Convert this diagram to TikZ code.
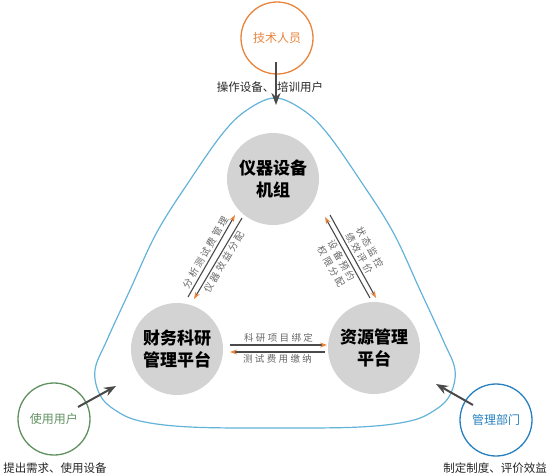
\documentclass[tikz,border=0pt]{standalone}
\usepackage{fontspec}
\newfontfamily\cjk{Noto Sans CJK SC}
\newfontfamily\cjklab[LetterSpace=25]{Noto Sans CJK SC}
\usetikzlibrary{arrows.meta}
\definecolor{orng}{HTML}{E8843C}
\definecolor{grn}{HTML}{5F9160}
\definecolor{blu}{HTML}{2680BE}
\definecolor{lblu}{HTML}{63B3D8}
\definecolor{gfill}{HTML}{D3D3D3}
\definecolor{dk}{HTML}{4A4A4A}
\definecolor{labc}{HTML}{666666}
\begin{document}
\begin{tikzpicture}[x=1pt,y=-1pt,
 hub/.style={circle, fill=gfill, minimum size=92pt, inner sep=0pt, align=center, font=\cjk\bfseries\fontsize{17}{22}\selectfont, text=black},
 actor/.style={circle, draw=#1, text=#1, line width=1.3pt, minimum size=72pt, inner sep=0pt, font=\cjk\fontsize{12}{14}\selectfont},
 flow/.style={draw=dk, line width=1.1pt, -{Stealth[length=7pt,width=5pt,color=orng]}},
 push/.style={draw=dk, line width=2pt, -{Stealth[length=12pt,width=9pt]}},
 lab/.style={font=\cjklab\fontsize{9.5}{12}\selectfont, text=labc, inner sep=2.2pt, align=center},
 note/.style={font=\cjk\fontsize{11.5}{14}\selectfont, text=black!85, inner sep=0pt}
]
\useasboundingbox (0,0) rectangle (552,475);
% outer rounded triangle
\draw[lblu, line width=1.2pt] plot[smooth cycle, tension=0.6] coordinates {
 (275,98) (303,110) (327,133) (360,180) (393,232) (420,290) (443,340) (455,370)
 (450,395) (435,410) (410,421) (360,427) (275,428) (190,427) (140,421) (115,410)
 (100,395) (95,370) (107,340) (130,290) (157,232) (190,180) (223,133) (247,110)};
% hubs
\node[hub] (inst) at (273,179) {仪器设备\\机组};
\node[hub] (fin) at (177,349) {财务科研\\管理平台};
\node[hub] (res) at (374,348) {资源管理\\平台};
% actors
\node[actor=orng] (tech) at (277,38) {技术人员};
\node[actor=grn] (user) at (54,419) {使用用户};
\node[actor=blu] (mgmt) at (496,420) {管理部门};
% actor notes
\node[note] (techn) at (270,87) {操作设备、\hspace{3pt}培训用户};
\node[note] (usern) at (55,468) {提出需求、使用设备};
\node[note] (mgmtn) at (495,468) {制定制度、评价效益};
% actor arrows
\coordinate (t0) at (276,62);
\coordinate (t1) at (276,105);
\coordinate (u0) at (78,407);
\coordinate (u1) at (116,386);
\coordinate (m0) at (473,405);
\coordinate (m1) at (436,384);
\draw[push] (t0) -- (t1);
\draw[push] (u0) -- (u1);
\draw[push] (m0) -- (m1);
% left pair
\coordinate (l1s) at (188,297);
\coordinate (l1e) at (235,215);
\coordinate (l2s) at (242,218);
\coordinate (l2e) at (194,299);
\draw[flow] (l1s) -- node[lab, sloped, above] {分析测试费管理} (l1e);
\draw[flow] (l2s) -- (l2e);
\path (l2e) -- node[lab, sloped, below] {仪器效益分配} (l2s);
% right pair
\coordinate (r1s) at (370,298);
\coordinate (r1e) at (325,217);
\coordinate (r2s) at (330,215);
\coordinate (r2e) at (376,298);
\draw[flow] (r1s) -- (r1e);
\path (r1e) -- node[lab, sloped, below] {设备预约\\权限分配} (r1s);
\draw[flow] (r2s) -- node[lab, sloped, above] {状态监控\\绩效评价} (r2e);
% bottom pair
\coordinate (b1s) at (230,345);
\coordinate (b1e) at (327,345);
\coordinate (b2s) at (325,352);
\coordinate (b2e) at (230,352);
\draw[flow] (b1s) -- node[lab, above] {科研项目绑定} (b1e);
\draw[flow] (b2s) -- node[lab, below] {测试费用缴纳} (b2e);
\end{tikzpicture}
\end{document}
